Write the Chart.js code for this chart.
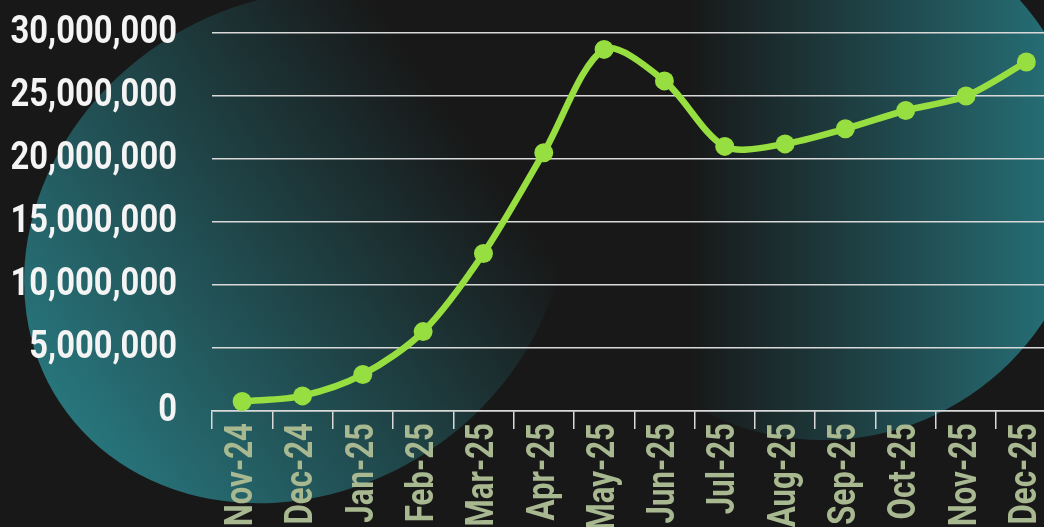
<!DOCTYPE html>
<html>
<head>
<meta charset="utf-8">
<script src="https://cdn.jsdelivr.net/npm/chart.js@4.4.1/dist/chart.umd.min.js"></script>
<style>
  html, body { margin: 0; padding: 0; background: #181818; overflow: hidden; }
  #wrap { width: 1066px; height: 527px; }
</style>
</head>
<body>
<div id="wrap"><canvas id="myChart"></canvas></div>
<script>
const months = ['Nov-24', 'Dec-24', 'Jan-25', 'Feb-25', 'Mar-25', 'Apr-25', 'May-25',
                'Jun-25', 'Jul-25', 'Aug-25', 'Sep-25', 'Oct-25', 'Nov-25', 'Dec-25'];
const totals = [750000, 1200000, 2900000, 6300000, 12500000, 20500000, 28700000,
                26200000, 21000000, 21200000, 22400000, 23850000, 25000000, 27700000];
const yTicks = [0, 5000000, 10000000, 15000000, 20000000, 25000000, 30000000];

// no condensed face installed, so labels get squeezed by hand
const labelFont = "bold 39px Roboto";

const backdrop = {
  id: 'backdrop',
  beforeDraw(chart) {
    const ctx = chart.ctx;
    ctx.save();
    ctx.fillStyle = '#181818';
    ctx.fillRect(0, 0, chart.width, chart.height);

    let g = ctx.createLinearGradient(60, 430, 470, 140);
    g.addColorStop(0, '#28787f');
    g.addColorStop(1, '#181818');
    ctx.fillStyle = g;
    ctx.beginPath();
    ctx.ellipse(295, 247, 282, 244, -33.6 * Math.PI / 180, 0, Math.PI * 2);
    ctx.fill();

    g = ctx.createLinearGradient(690, 0, 1087, 0);
    g.addColorStop(0, '#181818');
    g.addColorStop(1, '#27767e');
    ctx.fillStyle = g;
    ctx.beginPath();
    ctx.arc(823, 176, 264, 0, Math.PI * 2);
    ctx.fill();
    ctx.restore();
  }
};

const tickText = {
  id: 'tickText',
  afterDraw(chart) {
    const ctx = chart.ctx;
    const xs = chart.scales.x, ys = chart.scales.y;
    ctx.save();
    ctx.font = labelFont;
    ctx.textAlign = 'right';
    ctx.textBaseline = 'middle';
    ctx.fillStyle = '#f4f4f4';
    yTicks.forEach(v => {
      ctx.save();
      ctx.translate(ys.right - 35, ys.getPixelForValue(v));
      ctx.scale(0.84, 1);
      ctx.fillText(v.toLocaleString('en-US'), 0, 0);
      ctx.restore();
    });
    ctx.fillStyle = '#a8b890';
    months.forEach((m, i) => {
      ctx.save();
      ctx.translate(xs.getPixelForValue(i), xs.top + 12);
      ctx.rotate(-Math.PI / 2);
      ctx.scale(0.8, 1);
      ctx.fillText(m, 0, 0);
      ctx.restore();
    });
    ctx.restore();
  }
};

new Chart(document.getElementById('myChart'), {
  type: 'line',
  data: {
    labels: months,
    datasets: [{
      data: totals,
      borderColor: '#97de41',
      backgroundColor: '#97de41',
      borderWidth: 6.5,
      pointRadius: 9.5,
      pointBorderWidth: 0,
      tension: 0.3,
      fill: false
    }]
  },
  options: {
    responsive: true,
    maintainAspectRatio: false,
    animation: false,
    layout: { padding: { top: 33, right: 0, bottom: 0, left: 0 } },
    plugins: { legend: { display: false }, tooltip: { enabled: false } },
    scales: {
      x: {
        offset: true,
        grid: { display: true, drawOnChartArea: false, offset: true, color: '#d9d9d9', lineWidth: 1.5, tickLength: 18 },
        border: { display: true, color: '#d9d9d9', width: 1.5 },
        ticks: { display: false },
        afterFit(scale) { scale.height = 116; }
      },
      y: {
        min: 0,
        max: 30000000,
        afterBuildTicks(scale) { scale.ticks = yTicks.map(v => ({ value: v })); },
        grid: { color: '#d9d9d9', lineWidth: 1.5, drawTicks: false },
        border: { display: false },
        ticks: { display: false },
        afterFit(scale) { scale.width = 212; }
      }
    }
  },
  plugins: [backdrop, tickText]
});
</script>
</body>
</html>
